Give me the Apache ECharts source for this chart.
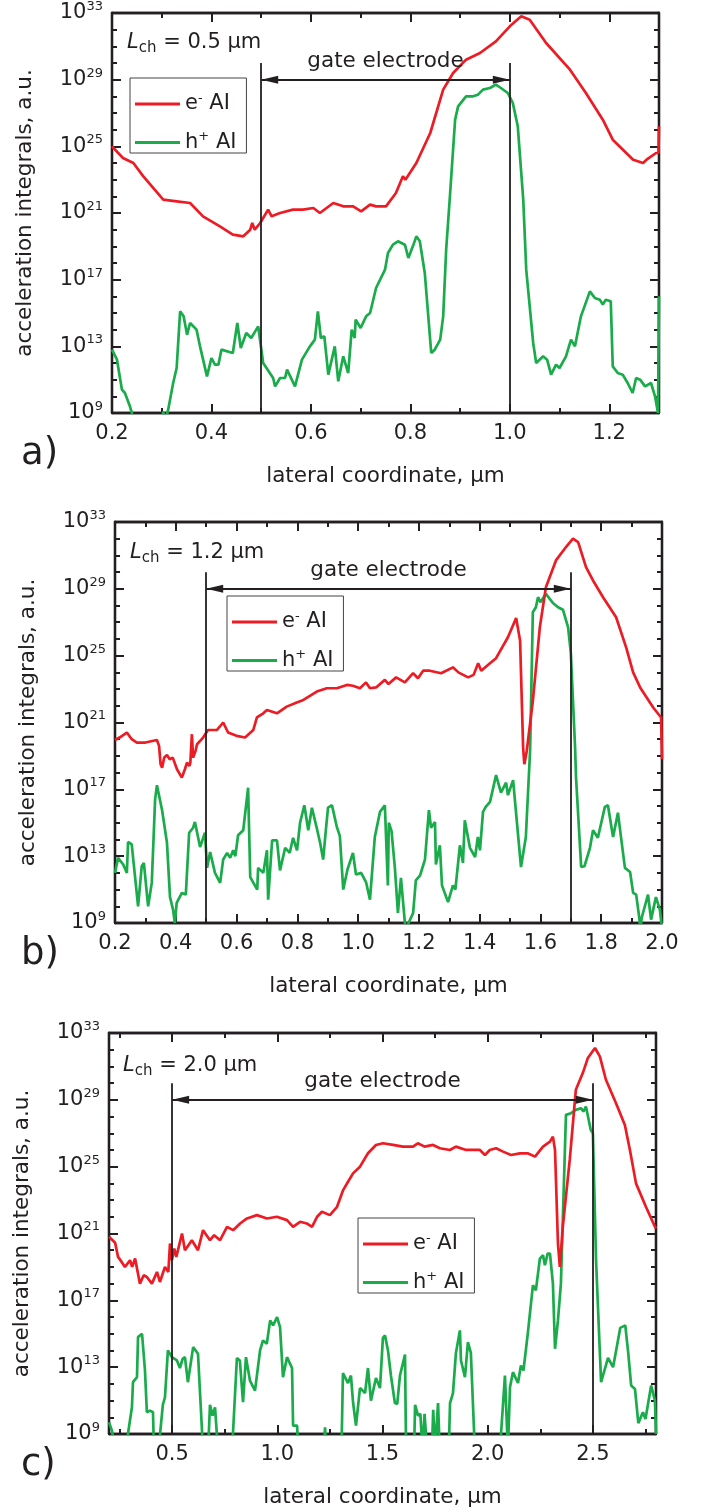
<!DOCTYPE html>
<html><head><meta charset="utf-8">
<script src="https://cdn.jsdelivr.net/npm/echarts@6/dist/echarts.min.js"></script>
<style>html,body{margin:0;padding:0;background:#fff}#c{width:706px;height:1512px}</style>
</head><body><div id="c"></div>
<script>
// ---------- DATA: [lateral coordinate (um), log10(acceleration integral)] ----------
const aElec = [[0.200,25.0],[0.222,24.3],[0.243,24.0],[0.263,23.2],[0.303,21.8],[0.330,21.7],[0.357,21.6],[0.383,20.8],[0.417,20.2],[0.443,19.7],[0.464,19.6],[0.478,20.0],[0.482,20.4],[0.487,20.0],[0.498,20.4],[0.514,21.2],[0.521,20.8],[0.538,21.0],[0.564,21.2],[0.584,21.2],[0.605,21.3],[0.618,21.0],[0.645,21.6],[0.665,21.4],[0.685,21.4],[0.701,21.1],[0.719,21.5],[0.731,21.4],[0.751,21.4],[0.771,22.2],[0.785,23.2],[0.790,23.0],[0.812,24.0],[0.840,25.8],[0.866,28.4],[0.886,29.4],[0.912,30.2],[0.940,30.6],[0.972,31.3],[1.000,32.2],[1.023,32.8],[1.040,32.6],[1.073,31.2],[1.121,29.6],[1.153,28.2],[1.187,26.6],[1.191,26.7],[1.207,25.4],[1.248,24.2],[1.268,24.0],[1.275,24.2],[1.294,24.6],[1.299,24.6],[1.300,26.2]];
const aHole = [[0.200,12.8],[0.210,12.2],[0.220,10.4],[0.226,10.2],[0.236,9.4],[0.240,9.0],[0.246,8.0],[0.298,8.0],[0.303,9.1],[0.307,8.5],[0.313,9.2],[0.323,10.8],[0.330,11.7],[0.337,15.1],[0.344,14.8],[0.351,13.7],[0.357,14.4],[0.370,14.0],[0.377,13.0],[0.391,11.2],[0.400,12.3],[0.407,11.9],[0.414,11.9],[0.420,12.8],[0.443,12.6],[0.452,14.4],[0.459,12.9],[0.470,13.8],[0.480,13.5],[0.494,14.2],[0.504,12.0],[0.524,11.1],[0.528,10.6],[0.538,11.1],[0.548,11.1],[0.552,11.6],[0.568,10.6],[0.582,12.2],[0.598,13.0],[0.608,13.4],[0.614,15.1],[0.620,13.5],[0.627,13.6],[0.635,11.3],[0.648,13.0],[0.655,10.9],[0.665,12.4],[0.675,11.4],[0.682,14.0],[0.688,13.5],[0.690,14.6],[0.700,14.1],[0.711,14.8],[0.719,15.0],[0.731,16.5],[0.749,17.6],[0.755,18.6],[0.765,19.1],[0.775,19.3],[0.789,19.1],[0.796,18.3],[0.805,19.0],[0.812,19.6],[0.819,19.3],[0.829,17.4],[0.842,12.6],[0.849,12.8],[0.860,13.4],[0.866,14.8],[0.872,18.8],[0.880,22.2],[0.890,26.6],[0.896,27.4],[0.912,28.0],[0.926,28.0],[0.936,28.1],[0.946,28.4],[0.960,28.5],[0.972,28.7],[0.982,28.5],[0.996,28.2],[1.006,27.6],[1.016,26.2],[1.027,21.8],[1.033,17.6],[1.047,13.2],[1.053,12.0],[1.067,12.4],[1.075,12.2],[1.083,11.3],[1.093,11.9],[1.100,11.7],[1.113,12.4],[1.123,13.4],[1.131,13.0],[1.143,14.8],[1.161,16.3],[1.171,15.9],[1.181,15.8],[1.187,15.5],[1.193,15.8],[1.203,15.7],[1.207,11.8],[1.217,11.4],[1.227,11.3],[1.237,10.8],[1.247,10.2],[1.254,11.1],[1.262,11.0],[1.272,10.6],[1.284,10.8],[1.292,10.0],[1.298,9.0],[1.300,16.0]];

const bElec = [[0.200,19.95],[0.215,20.1],[0.239,20.4],[0.255,20.0],[0.272,19.8],[0.300,19.8],[0.338,19.95],[0.345,19.6],[0.350,18.5],[0.355,18.3],[0.362,18.9],[0.371,19.05],[0.380,18.8],[0.390,18.9],[0.404,18.2],[0.420,17.7],[0.430,18.2],[0.437,18.6],[0.445,18.4],[0.448,18.6],[0.453,20.3],[0.457,18.9],[0.465,19.3],[0.470,19.7],[0.490,20.1],[0.506,20.55],[0.535,20.55],[0.556,21.0],[0.572,20.4],[0.600,20.2],[0.628,20.1],[0.655,20.55],[0.667,21.3],[0.688,21.55],[0.700,21.75],[0.733,21.55],[0.765,21.95],[0.798,22.2],[0.820,22.35],[0.864,22.85],[0.897,23.05],[0.930,23.05],[0.963,23.25],[0.983,23.2],[1.006,23.05],[1.026,23.4],[1.039,23.05],[1.059,23.1],[1.088,23.55],[1.100,23.3],[1.125,23.7],[1.154,23.4],[1.181,23.95],[1.197,23.65],[1.214,24.1],[1.236,24.1],[1.273,23.95],[1.312,24.3],[1.330,24.0],[1.362,23.7],[1.380,23.85],[1.395,24.55],[1.405,24.1],[1.434,24.55],[1.454,24.85],[1.493,26.1],[1.520,27.25],[1.533,25.9],[1.543,19.5],[1.547,18.5],[1.555,19.3],[1.575,22.3],[1.598,26.7],[1.618,29.1],[1.651,30.7],[1.684,31.5],[1.707,32.0],[1.724,31.8],[1.750,30.3],[1.773,29.5],[1.806,28.5],[1.849,27.3],[1.882,25.5],[1.905,24.0],[1.928,23.1],[1.971,21.9],[1.997,21.3],[2.000,18.8]];
const bHole = [[0.200,12.0],[0.210,12.9],[0.227,12.5],[0.239,12.0],[0.243,13.85],[0.255,13.7],[0.276,10.0],[0.288,12.4],[0.295,12.6],[0.309,10.0],[0.321,11.4],[0.332,16.4],[0.338,17.25],[0.355,15.75],[0.371,13.8],[0.381,10.55],[0.391,9.8],[0.397,9.0],[0.403,10.2],[0.420,10.8],[0.433,10.7],[0.444,14.4],[0.457,14.7],[0.463,15.05],[0.480,13.55],[0.496,14.4],[0.503,12.3],[0.513,13.25],[0.529,12.0],[0.546,11.4],[0.556,12.8],[0.569,13.2],[0.579,12.9],[0.589,13.35],[0.596,13.0],[0.605,14.25],[0.622,14.55],[0.638,17.1],[0.645,11.75],[0.668,11.0],[0.671,12.3],[0.688,12.0],[0.700,13.35],[0.704,10.4],[0.717,13.95],[0.733,13.95],[0.743,12.15],[0.760,13.5],[0.775,13.2],[0.786,14.1],[0.799,13.35],[0.809,15.0],[0.823,16.05],[0.836,14.55],[0.848,15.9],[0.865,14.6],[0.875,13.8],[0.885,12.8],[0.893,14.4],[0.901,15.9],[0.914,16.05],[0.930,14.75],[0.940,14.2],[0.951,11.0],[0.965,12.2],[0.983,13.2],[0.993,11.9],[1.010,12.0],[1.026,11.45],[1.039,10.4],[1.055,14.15],[1.072,15.65],[1.088,16.05],[1.098,11.25],[1.101,15.0],[1.110,14.5],[1.121,12.3],[1.131,9.6],[1.141,11.7],[1.154,9.0],[1.158,8.0],[1.162,8.0],[1.166,9.0],[1.181,9.6],[1.190,11.55],[1.204,11.85],[1.220,12.8],[1.233,15.75],[1.240,14.7],[1.253,15.05],[1.256,12.5],[1.269,13.65],[1.276,11.25],[1.296,10.25],[1.312,11.25],[1.320,11.0],[1.335,13.65],[1.345,12.6],[1.351,15.15],[1.368,13.5],[1.385,12.95],[1.394,14.15],[1.401,13.35],[1.411,15.65],[1.420,15.95],[1.434,16.25],[1.454,17.85],[1.470,16.8],[1.487,17.4],[1.493,16.65],[1.510,17.55],[1.536,12.35],[1.552,14.15],[1.566,19.35],[1.575,27.6],[1.585,27.9],[1.592,28.5],[1.600,28.2],[1.618,28.7],[1.641,28.15],[1.658,27.9],[1.674,27.75],[1.691,26.7],[1.700,25.15],[1.714,19.5],[1.717,17.75],[1.734,12.35],[1.745,12.4],[1.763,13.5],[1.773,14.55],[1.789,14.1],[1.812,15.95],[1.822,16.05],[1.839,14.15],[1.855,15.6],[1.865,14.15],[1.878,12.3],[1.895,12.05],[1.905,10.8],[1.915,10.7],[1.926,9.2],[1.929,8.5],[1.933,9.3],[1.954,10.7],[1.964,9.2],[1.980,10.55],[1.993,9.8],[1.998,9.0],[2.000,8.5]];

const cElec = [[0.200,20.8],[0.229,20.45],[0.243,19.6],[0.260,19.3],[0.276,19.0],[0.300,19.4],[0.310,19.0],[0.324,19.5],[0.347,18.0],[0.365,18.5],[0.380,18.4],[0.404,18.0],[0.428,18.7],[0.442,18.1],[0.466,19.0],[0.482,18.7],[0.490,20.4],[0.499,19.4],[0.510,20.1],[0.520,19.6],[0.547,21.0],[0.561,20.0],[0.594,20.6],[0.623,20.0],[0.647,21.2],[0.680,20.6],[0.700,20.9],[0.728,20.6],[0.761,21.4],[0.790,21.2],[0.823,21.6],[0.856,21.9],[0.903,22.1],[0.951,21.9],[0.998,22.0],[1.046,21.8],[1.075,21.4],[1.108,21.7],[1.140,21.6],[1.165,21.4],[1.189,22.0],[1.212,22.3],[1.250,22.1],[1.284,22.6],[1.313,23.6],[1.336,24.1],[1.360,24.6],[1.393,25.0],[1.431,25.8],[1.469,26.3],[1.502,26.4],[1.550,26.3],[1.597,26.2],[1.645,26.2],[1.668,26.4],[1.700,26.2],[1.740,26.3],[1.773,26.1],[1.820,26.0],[1.849,26.2],[1.897,26.0],[1.963,26.0],[1.987,25.7],[2.010,26.0],[2.040,26.1],[2.073,25.9],[2.111,25.7],[2.153,25.8],[2.190,25.8],[2.225,25.6],[2.263,26.2],[2.296,26.5],[2.310,26.8],[2.320,26.0],[2.334,20.4],[2.343,19.0],[2.357,21.4],[2.390,25.4],[2.419,29.6],[2.452,30.6],[2.476,31.5],[2.510,32.1],[2.533,31.6],[2.562,30.2],[2.610,28.8],[2.652,27.5],[2.676,26.0],[2.705,24.0],[2.752,22.6],[2.795,21.4],[2.800,21.3]];
const cHole = [[0.200,9.7],[0.214,9.2],[0.230,8.0],[0.285,8.0],[0.290,9.0],[0.309,10.6],[0.314,12.1],[0.333,12.4],[0.338,14.8],[0.357,15.0],[0.371,12.8],[0.380,10.3],[0.395,10.4],[0.409,10.3],[0.414,8.0],[0.435,8.0],[0.456,10.75],[0.466,11.2],[0.480,14.0],[0.499,13.6],[0.504,13.55],[0.523,13.4],[0.537,12.95],[0.550,13.5],[0.561,13.6],[0.575,12.1],[0.600,14.2],[0.623,13.8],[0.647,8.0],[0.671,8.0],[0.680,10.75],[0.692,10.1],[0.704,10.6],[0.718,8.0],[0.785,8.0],[0.808,13.55],[0.822,13.4],[0.837,10.9],[0.851,13.6],[0.870,12.2],[0.894,11.6],[0.918,14.0],[0.932,14.6],[0.950,14.4],[0.966,15.8],[0.980,15.5],[0.999,16.0],[1.013,15.4],[1.027,12.4],[1.046,13.6],[1.070,12.95],[1.075,9.5],[1.094,9.5],[1.100,8.0],[1.220,8.0],[1.227,9.4],[1.232,8.0],[1.305,8.0],[1.312,12.65],[1.336,12.05],[1.350,12.5],[1.360,10.9],[1.374,9.5],[1.393,11.75],[1.417,11.45],[1.431,12.95],[1.445,11.0],[1.469,12.35],[1.488,11.75],[1.502,14.75],[1.512,14.9],[1.526,14.0],[1.540,12.5],[1.559,10.85],[1.570,10.8],[1.583,12.5],[1.607,13.75],[1.612,8.0],[1.650,8.0],[1.655,10.75],[1.669,10.1],[1.680,10.2],[1.690,8.0],[1.700,10.2],[1.712,8.0],[1.735,8.0],[1.741,10.45],[1.750,8.0],[1.764,10.85],[1.772,8.0],[1.815,8.0],[1.821,10.85],[1.835,11.45],[1.849,13.85],[1.868,15.2],[1.873,13.4],[1.892,12.4],[1.906,14.5],[1.920,13.85],[1.939,8.0],[2.058,8.0],[2.082,12.5],[2.096,8.0],[2.106,11.8],[2.120,12.7],[2.144,12.05],[2.158,13.1],[2.170,12.8],[2.191,15.05],[2.215,17.9],[2.229,17.6],[2.248,19.5],[2.263,19.7],[2.272,19.1],[2.285,19.8],[2.296,19.8],[2.310,18.0],[2.320,14.1],[2.334,15.8],[2.348,18.0],[2.372,28.1],[2.396,28.2],[2.419,28.4],[2.443,28.5],[2.455,28.3],[2.467,28.6],[2.490,27.2],[2.500,27.0],[2.515,19.4],[2.539,12.1],[2.572,13.55],[2.596,13.0],[2.630,15.35],[2.654,15.5],[2.668,13.85],[2.682,11.9],[2.700,11.7],[2.716,9.65],[2.738,10.3],[2.750,9.9],[2.777,11.9],[2.795,11.0],[2.800,9.0]];

// axis ranges and tick positions
const yExtentExp = [9, 33];
const yMajorExp = [9, 13, 17, 21, 25, 29, 33];
const yMinorExp = [10, 11, 12, 14, 15, 16, 18, 19, 20, 22, 23, 24, 26, 27, 28, 30, 31, 32];
const aRange = [0.2, 1.3], bRange = [0.2, 2.0], cRange = [0.2, 2.8];
const aXMajor = [0.2, 0.4, 0.6, 0.8, 1.0, 1.2];
const aXMinor = [0.3, 0.5, 0.7, 0.9, 1.1];
const bXMajor = [0.2, 0.4, 0.6, 0.8, 1.0, 1.2, 1.4, 1.6, 1.8, 2.0];
const bXMinor = [0.3, 0.5, 0.7, 0.9, 1.1, 1.3, 1.5, 1.7, 1.9];
const cXMajor = [0.5, 1.0, 1.5, 2.0, 2.5];
const cXMinor = [0.25, 0.75, 1.25, 1.75, 2.25, 2.75];
// gate electrode edges (um), channel lengths
const aGate = [0.5, 1.0], bGate = [0.5, 1.7], cGate = [0.5, 2.5];
const gateTopExp = 30, gateArrowExp = 29;
const channelLengths = ['0.5', '1.2', '2.0'];
const seriesNames = ['e- AI', 'h+ AI'];

// ---------- RENDER ----------
const FONT = 'DejaVu Sans';
const INK = '#231f20';
const RED = '#ed1c24', GREEN = '#1aab4b';
const p10 = e => Number.isInteger(e) ? Number('1e' + e) : Math.pow(10, e);
const toVals = pairs => pairs.map(p => [p[0], p10(p[1])]);
// tick value kept a hair inside the axis maximum so the library does not drop it as out of range
const tickVal = e => e >= yExtentExp[1] ? Math.pow(10, e - 1e-7) : p10(e);

const panels = [
  {grid: {left: 112, top: 13, width: 547, height: 400}, range: aRange, xMajor: aXMajor, xMinor: aXMinor,
   elec: aElec, hole: aHole, gate: aGate, lch: channelLengths[0], legend: {left: 130, top: 78}, lchPos: [127, 43], letter: 'a)', letterPos: [21, 454]},
  {grid: {left: 115, top: 522, width: 547, height: 401}, range: bRange, xMajor: bXMajor, xMinor: bXMinor,
   elec: bElec, hole: bHole, gate: bGate, lch: channelLengths[1], legend: {left: 227, top: 596}, lchPos: [130, 553], letter: 'b)', letterPos: [21, 954]},
  {grid: {left: 109, top: 1033, width: 547, height: 401}, range: cRange, xMajor: cXMajor, xMinor: cXMinor,
   elec: cElec, hole: cHole, gate: cGate, lch: channelLengths[2], legend: {left: 358, top: 1218}, lchPos: [123, 1066], letter: 'c)', letterPos: [21, 1465]}
];

const MAJ = 9, MIN = 5;
const grids = [], xAxes = [], yAxes = [], series = [], legends = [], graphics = [];

function xAx(gi, range, pos, ticks, len, labels, name) {
  return {
    type: 'value', gridIndex: gi, position: pos, min: range[0], max: range[1],
    axisLine: {show: true, onZero: false, lineStyle: {color: INK, width: 2.3}},
    splitLine: {show: false},
    axisTick: {show: true, inside: true, length: len, customValues: ticks, lineStyle: {color: INK, width: 2}},
    axisLabel: labels ? {show: true, customValues: labels, margin: 10, formatter: v => v.toFixed(1),
      showMinLabel: true, showMaxLabel: true,
      fontFamily: FONT, fontSize: 21, color: INK, lineHeight: 22} : {show: false},
    name: name || '', nameLocation: 'middle', nameGap: 52,
    nameTextStyle: {fontFamily: FONT, fontSize: 21.5, color: INK, lineHeight: 22}
  };
}
function yAx(gi, pos, ticksExp, len, labelsExp, name) {
  return {
    type: 'log', logBase: 10, gridIndex: gi, position: pos, min: p10(yExtentExp[0]), max: p10(yExtentExp[1]),
    axisLine: {show: true, onZero: false, lineStyle: {color: INK, width: 2.3}},
    splitLine: {show: false}, minorTick: {show: false},
    axisTick: {show: true, inside: true, length: len, customValues: ticksExp.map(tickVal), lineStyle: {color: INK, width: 2}},
    axisLabel: labelsExp ? {show: true, customValues: labelsExp.map(tickVal), margin: 9,
      showMinLabel: true, showMaxLabel: true, hideOverlap: false,
      formatter: v => '{b|10}{e|' + Math.round(Math.log10(v)) + '}',
      rich: {b: {fontFamily: FONT, fontSize: 21, color: INK, lineHeight: 26},
             e: {fontFamily: FONT, fontSize: 13, color: INK, lineHeight: 8, verticalAlign: 'top'}}} : {show: false},
    name: name || '', nameLocation: 'middle', nameGap: 76, nameRotate: 90,
    nameTextStyle: {fontFamily: FONT, fontSize: 21.5, color: INK, lineHeight: 22}
  };
}

panels.forEach((P, i) => {
  grids.push(Object.assign({show: false, outerBoundsMode: 'none', containLabel: false}, P.grid));
  xAxes.push(xAx(i, P.range, 'bottom', P.xMajor, MAJ, P.xMajor, 'lateral coordinate, \u03bcm'));
  xAxes.push(xAx(i, P.range, 'bottom', P.xMinor, MIN, null));
  xAxes.push(xAx(i, P.range, 'top', P.xMajor, MAJ, null));
  xAxes.push(xAx(i, P.range, 'top', P.xMinor, MIN, null));
  yAxes.push(yAx(i, 'left', yMajorExp, MAJ, yMajorExp, 'acceleration integrals, a.u.'));
  yAxes.push(yAx(i, 'left', yMinorExp, MIN, null));
  yAxes.push(yAx(i, 'right', yMajorExp, MAJ, null));
  yAxes.push(yAx(i, 'right', yMinorExp, MIN, null));

  const g0 = P.gate[0], g1 = P.gate[1];
  const arrowPt = x => ({coord: [x, p10(gateArrowExp)], symbol: 'triangle', symbolSize: [8, 17], symbolOffset: [0, 8.5]});
  series.push({
    type: 'line', name: seriesNames[0], xAxisIndex: i * 4, yAxisIndex: i * 4,
    data: toVals(P.elec), symbol: 'none', showSymbol: false, clip: true, animation: false,
    lineStyle: {color: RED, width: 2.7}, itemStyle: {color: RED}, z: 3,
    markLine: {
      silent: true, animation: false, symbol: ['none', 'none'],
      lineStyle: {color: INK, width: 1.8, type: 'solid'}, label: {show: false},
      data: [
        [{coord: [g0, p10(gateTopExp)]}, {coord: [g0, p10(yExtentExp[0])]}],
        [{coord: [g1, p10(gateTopExp)]}, {coord: [g1, p10(yExtentExp[0])]}],
        [Object.assign(arrowPt(g0), {label: {show: true, position: 'middle', formatter: 'gate electrode',
          distance: 7, fontFamily: FONT, fontSize: 21.5, color: INK}}), arrowPt(g1)]
      ]
    }
  });
  series.push({
    type: 'line', name: seriesNames[1], xAxisIndex: i * 4, yAxisIndex: i * 4,
    data: toVals(P.hole), symbol: 'none', showSymbol: false, clip: true, animation: false,
    lineStyle: {color: GREEN, width: 2.7}, itemStyle: {color: GREEN}, z: 2
  });

  legends.push({
    show: true, data: seriesNames, orient: 'vertical', left: P.legend.left, top: P.legend.top,
    padding: [14, 10, 0, 5], itemGap: 16, itemWidth: 45, itemHeight: 3, icon: 'rect',
    borderColor: '#444', borderWidth: 1, backgroundColor: '#fff', selectedMode: false,
    formatter: n => '{t|' + n[0] + '}{p|' + n[1] + '}{t|' + n.slice(2) + '}',
    textStyle: {color: INK, fontFamily: FONT, fontSize: 21,
      rich: {t: {fontFamily: FONT, fontSize: 21, color: INK, lineHeight: 24},
             p: {fontFamily: FONT, fontSize: 13, color: INK, lineHeight: 6, verticalAlign: 'top'}}}
  });

  graphics.push({
    type: 'text', x: P.lchPos[0], y: P.lchPos[1], silent: true,
    style: {text: '{i|L}{s|ch}{n| = ' + P.lch + ' \u03bcm}', verticalAlign: 'middle', align: 'left', fill: INK,
      rich: {i: {fontFamily: FONT, fontStyle: 'italic', fontSize: 21, lineHeight: 26, fill: INK},
             n: {fontFamily: FONT, fontSize: 21, lineHeight: 26, fill: INK},
             s: {fontFamily: FONT, fontSize: 15, lineHeight: 10, verticalAlign: 'bottom', fill: INK}}}
  });
  graphics.push({
    type: 'text', x: P.letterPos[0], y: P.letterPos[1], silent: true,
    style: {text: P.letter, font: '37px "DejaVu Sans"', fill: INK, verticalAlign: 'middle', align: 'left'}
  });
});

const chart = echarts.init(document.getElementById('c'), null, {renderer: 'canvas'});
chart.setOption({
  backgroundColor: '#fff', animation: false,
  grid: grids, xAxis: xAxes, yAxis: yAxes, series: series, legend: legends, graphic: graphics
});
</script></body></html>
